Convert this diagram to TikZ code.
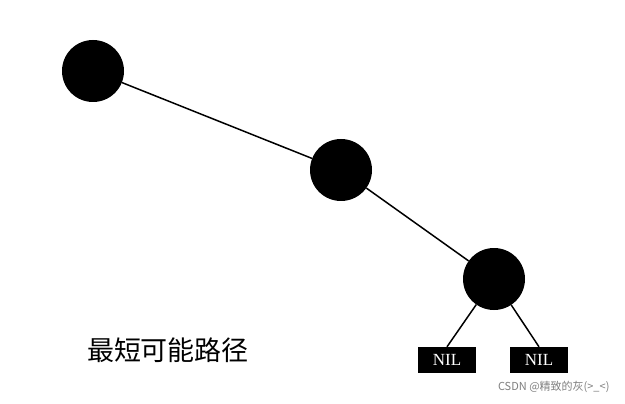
\documentclass[tikz,border=0pt]{standalone}
\usepackage{fontspec}
\setmainfont{Liberation Serif}
\newfontfamily\cjk{Noto Sans CJK SC}
\begin{document}
\begin{tikzpicture}[x=1pt,y=-1pt,
  dot/.style={circle,fill=black,minimum size=62pt,inner sep=0pt},
  nilbox/.style={fill=black,text=white,minimum width=58pt,minimum height=26pt,inner sep=0pt,font=\fontsize{17}{17}\selectfont},
  edge/.style={line width=1.5pt}]
\useasboundingbox[fill=white] (0,0) rectangle (625,404);
\node[dot] (a) at (93,71) {};
\node[dot] (b) at (341,170) {};
\node[dot] (c) at (494,279) {};
\node[nilbox] (n1) at (447,360) {NIL};
\node[nilbox] (n2) at (539,360) {NIL};
\draw[edge] (a) -- (b);
\draw[edge] (b) -- (c);
\draw[edge] (c) -- (n1.north);
\draw[edge] (c) -- (n2.north);
\node[font=\cjk\fontsize{27}{27}\selectfont] (t) at (168,350) {最短可能路径};
\node[font=\cjk\fontsize{11}{11}\selectfont,text=gray,anchor=east] (w) at (613,387) {CSDN @精致的灰(>\_<)};
\end{tikzpicture}
\end{document}
